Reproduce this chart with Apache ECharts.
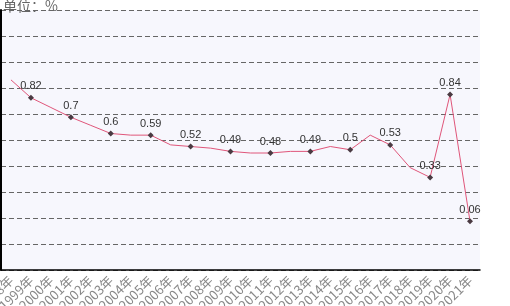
<!DOCTYPE html>
<html>
<head>
<meta charset="utf-8">
<script src="https://cdn.jsdelivr.net/npm/echarts@6/dist/echarts.min.js"></script>
<style>
html,body{margin:0;padding:0;background:#fff;}
#chart{width:510px;height:306px;}
</style>
</head>
<body>
<div id="chart"></div>
<script>
// Categories (years)
const years = ['1998年','1999年','2000年','2001年','2002年','2003年','2004年','2005年','2006年','2007年','2008年','2009年','2010年','2011年','2012年','2013年','2014年','2015年','2016年','2017年','2018年','2019年','2020年','2021年'];
// Series values (%)
const values = [0.93,0.82,0.76,0.7,0.65,0.6,0.59,0.59,0.53,0.52,0.51,0.49,0.48,0.48,0.49,0.49,0.52,0.5,0.59,0.53,0.39,0.33,0.84,0.06];
// Years that carry a marker and value label
const labeledYears = ['1999年','2001年','2003年','2005年','2007年','2009年','2011年','2013年','2015年','2017年','2019年','2020年','2021年'];
const unitText = '单位：%';

const seriesData = years.map((y, i) => {
  const on = labeledYears.indexOf(y) >= 0;
  return {
    value: values[i],
    symbol: on ? 'diamond' : 'none',
    label: { show: on }
  };
});

const chart = echarts.init(document.getElementById('chart'));
chart.setOption({
  animation: false,
  backgroundColor: '#ffffff',
  title: {
    text: unitText,
    left: -2,
    top: -6,
    textStyle: { fontSize: 14, fontWeight: 'normal', color: '#666', fontFamily: '"Noto Sans CJK SC", sans-serif' }
  },
  grid: {
    left: 1, right: 30, top: 10, bottom: 36,
    containLabel: false,
    outerBoundsMode: 'none',
    show: true, backgroundColor: '#f7f7fd', borderWidth: 0
  },
  xAxis: {
    type: 'category',
    data: years,
    boundaryGap: true,
    axisLine: { onZero: false, lineStyle: { color: '#000', width: 1.5 } },
    axisTick: { alignWithLabel: true, length: 4, lineStyle: { color: '#777' } },
    axisLabel: { rotate: 45, interval: 0, color: '#888', fontSize: 13, margin: 8, fontFamily: '"Noto Sans CJK SC", sans-serif' },
    splitLine: { show: false }
  },
  yAxis: {
    type: 'value',
    min: -0.24,
    max: 1.36,
    interval: 0.16,
    axisLine: { show: true, lineStyle: { color: '#000', width: 2 } },
    axisTick: { show: false },
    axisLabel: { show: false },
    splitLine: { show: true, lineStyle: { color: '#666', type: [5, 3], width: 1 } }
  },
  series: [{
    type: 'line',
    data: seriesData,
    symbolSize: 6,
    showAllSymbol: true,
    lineStyle: { color: '#e0567a', width: 1 },
    itemStyle: { color: '#4a3a42' },
    label: {
      position: 'top',
      distance: 3,
      color: '#333',
      fontSize: 11,
      fontFamily: 'Arial, sans-serif'
    }
  }]
});
</script>
</body>
</html>
